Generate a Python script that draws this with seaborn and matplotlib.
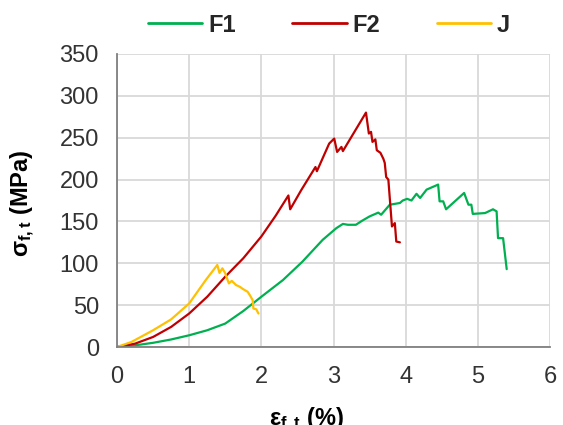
import matplotlib
matplotlib.use("Agg")
import matplotlib.pyplot as plt
import seaborn as sns
import pandas as pd

# ---- data ----
f1_strain = [0, 0.25, 0.5, 0.75, 1.0, 1.25, 1.5, 1.75, 2.0, 2.3, 2.57, 2.85, 3.04, 3.13, 3.2,
             3.31, 3.4, 3.5, 3.62, 3.66, 3.78, 3.92, 3.96, 4.02, 4.08, 4.15, 4.2, 4.29, 4.45,
             4.47, 4.52, 4.56, 4.81, 4.87, 4.91, 4.93, 5.1, 5.21, 5.26, 5.28, 5.35, 5.40]
f1_stress = [0, 2, 5, 9, 14, 20, 28, 43, 60, 80, 102, 128, 142, 147, 146,
             146, 151, 156, 160.5, 158, 170, 172, 175, 177, 175, 183, 178, 188, 194,
             174, 174, 164.5, 184, 170, 170, 159, 160, 164.5, 162, 130, 130, 93]

f2_strain = [0, 0.25, 0.5, 0.75, 1.0, 1.25, 1.5, 1.75, 2.0, 2.2, 2.375, 2.40, 2.55, 2.75,
             2.77, 2.94, 3.01, 3.05, 3.11, 3.13, 3.45, 3.49, 3.52, 3.54, 3.58, 3.60, 3.65,
             3.69, 3.71, 3.73, 3.76, 3.81, 3.85, 3.87, 3.92]
f2_stress = [0, 4, 12, 24, 40, 60, 84, 106, 132, 157, 181, 164.5, 187, 215,
             210, 243, 249, 233, 239, 234, 280, 255, 257, 245, 248, 235, 232,
             225, 220, 203, 200, 144, 148, 126, 125]

j_strain = [0, 0.2, 0.5, 0.75, 1.0, 1.23, 1.39, 1.42, 1.46, 1.50, 1.55, 1.59, 1.65, 1.70,
            1.75, 1.81, 1.84, 1.88, 1.89, 1.93, 1.96]
j_stress = [0, 6, 20, 33, 52, 80, 98, 88.5, 94, 88, 76, 79, 74, 72,
            69, 66, 62, 56, 46, 45, 40]

series = ["F1", "F2", "J"]
colors = {"F1": "#00B050", "F2": "#C00000", "J": "#FFC000"}

x_ticks = [0, 1, 2, 3, 4, 5, 6]
y_ticks = [0, 50, 100, 150, 200, 250, 300, 350]

df = pd.concat([
    pd.DataFrame({"strain": f1_strain, "stress": f1_stress, "series": "F1"}),
    pd.DataFrame({"strain": f2_strain, "stress": f2_stress, "series": "F2"}),
    pd.DataFrame({"strain": j_strain, "stress": j_stress, "series": "J"}),
], ignore_index=True)

sns.set_theme(style="white")
plt.rcParams["font.family"] = ["Liberation Sans", "DejaVu Sans"]
plt.rcParams["mathtext.fontset"] = "custom"
plt.rcParams["mathtext.rm"] = "Liberation Sans:bold"
plt.rcParams["mathtext.bf"] = "Liberation Sans:bold"
plt.rcParams["mathtext.it"] = "Liberation Sans:bold"

fig = plt.figure(figsize=(5.63, 4.25), dpi=100)
ax = fig.add_axes([117 / 563, 1 - 347 / 425, 433 / 563, 293 / 425])

sns.lineplot(data=df, x="strain", y="stress", hue="series", hue_order=series,
             palette=colors, sort=False, estimator=None, units="series",
             linewidth=1.6, ax=ax)

ax.set_xlim(0, 6)
ax.set_ylim(0, 350)
ax.set_xticks(x_ticks)
ax.set_yticks(y_ticks)
ax.grid(True, color="#D9D9D9", linewidth=1.3)
ax.set_axisbelow(True)
for s in ["top", "right"]:
    ax.spines[s].set_visible(False)
for s in ["left", "bottom"]:
    ax.spines[s].set_color("#808080")
    ax.spines[s].set_linewidth(1.3)
ax.tick_params(axis="both", direction="in", length=4, width=1.2, color="#808080",
               labelsize=17, labelcolor="#333333")
ax.tick_params(axis="y", pad=13)
ax.tick_params(axis="x", pad=14)

ax.set_xlabel(r"ε$_{f,t}$ (%)", fontsize=17, fontweight="bold", color="#000000")
ax.set_ylabel(r"σ$_{f,t}$ (MPa)", fontsize=17, fontweight="bold", color="#000000")
ax.xaxis.set_label_coords((306 - 117) / 433, (347 - 406) / 293)
ax.yaxis.set_label_coords((37 - 117) / 433, (347 - 203) / 293)

handles, labels = ax.get_legend_handles_labels()
leg = fig.legend(handles, labels, loc="center", bbox_to_anchor=(329 / 563, 1 - 25 / 425),
                 ncol=3, frameon=False, handlelength=2.3, handletextpad=0.25,
                 columnspacing=2.4, prop={"size": 17, "weight": "bold"})
ax.get_legend().remove()
for line in leg.get_lines():
    line.set_linewidth(2.0)

fig.savefig("out.png", dpi=100)
